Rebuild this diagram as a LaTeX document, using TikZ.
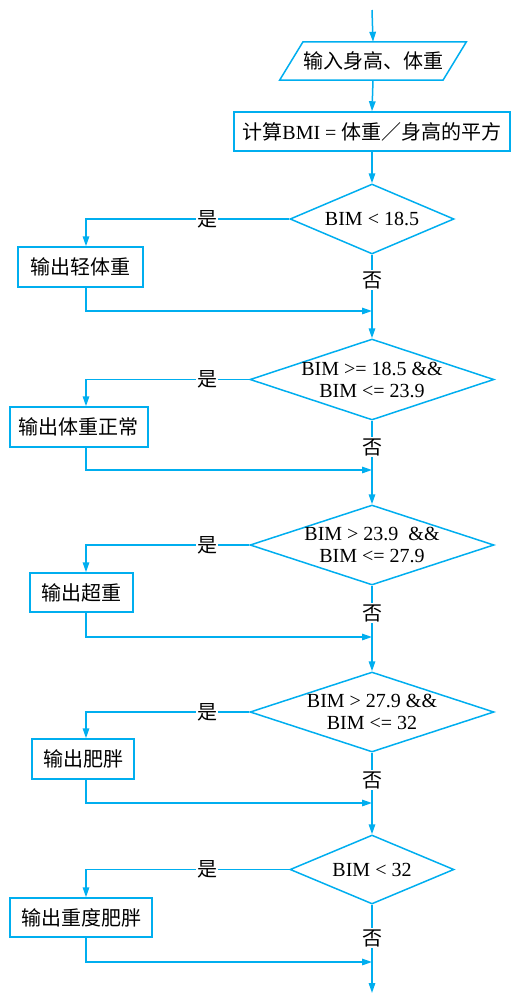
\documentclass[tikz,border=0pt]{standalone}
\usepackage{fontspec}
\setmainfont{Liberation Serif}
\newfontfamily\cjk{Noto Sans CJK SC}
\usetikzlibrary{shapes.geometric,arrows.meta,calc}
\definecolor{flow}{RGB}{0,174,239}
\begin{document}
\begin{tikzpicture}[x=1pt,y=-1pt,
  line/.style={draw=flow,line width=1.5pt},
  arr/.style={line,-{Triangle[length=10pt,width=6.5pt]}},
  procbox/.style={draw=flow,line width=1.5pt,rectangle,inner sep=0pt,font=\fontsize{20}{22}\selectfont\cjk},
  decide/.style={draw=flow,line width=1.5pt,diamond,inner sep=0pt},
  cond/.style={align=center,inner sep=0pt,font=\fontsize{20}{22}\selectfont},
  lab/.style={fill=white,inner sep=1pt,font=\fontsize{20}{22}\selectfont\cjk}]
\useasboundingbox (0,0) rectangle (511,994);

% coordinates
\coordinate (top) at (372,10);
\coordinate (bx) at (86,0);
\coordinate (m1) at (372,311);
\coordinate (m2) at (372,470);
\coordinate (m3) at (372,637);
\coordinate (m4) at (372,803);
\coordinate (m5) at (372,962);
\coordinate (bottom) at (372,993);

% input parallelogram
\node[inner sep=0pt,minimum width=163pt,minimum height=38pt,font=\fontsize{20}{22}\selectfont\cjk] (in) at (373,61) {输入身高、体重};
\draw[line] ($(in.north west)+(11.7,0)$) -- ($(in.north east)+(11.7,0)$) -- ($(in.south east)+(-11.7,0)$) -- ($(in.south west)+(-11.7,0)$) -- cycle;

% calculation
\node[procbox,minimum width=276pt,minimum height=39pt] (calc) at (372,131.5) {计算{\rmfamily BMI = }体重／身高的平方};

% decisions
\node[decide,minimum width=164pt,minimum height=70pt,label={[cond]center:{BIM < 18.5}}] (d1) at (372,219) {};
\node[decide,minimum width=244pt,minimum height=81pt,label={[cond]center:{BIM >= 18.5 \&\&\\BIM <= 23.9}}] (d2) at (372,379.5) {};
\node[decide,minimum width=244pt,minimum height=80pt,label={[cond]center:{BIM > 23.9\ \ \&\&\\BIM <= 27.9}}] (d3) at (372,545) {};
\node[decide,minimum width=244pt,minimum height=80pt,label={[cond]center:{BIM > 27.9 \&\&\\BIM <= 32}}] (d4) at (372,712) {};
\node[decide,minimum width=164pt,minimum height=69pt,label={[cond]center:{BIM < 32}}] (d5) at (372,869.5) {};

% output boxes
\node[procbox,minimum width=125pt,minimum height=40pt] (b1) at (80.5,267) {输出轻体重};
\node[procbox,minimum width=138pt,minimum height=40pt] (b2) at (79,427) {输出体重正常};
\node[procbox,minimum width=103pt,minimum height=39pt] (b3) at (81.5,592.5) {输出超重};
\node[procbox,minimum width=102pt,minimum height=40pt] (b4) at (83,759) {输出肥胖};
\node[procbox,minimum width=142pt,minimum height=39pt] (b5) at (81,917.5) {输出重度肥胖};

% main flow
\draw[arr] (top) -- (in.north);
\draw[arr] (in.south) -- (calc.north);
\draw[arr] (calc.south) -- (d1.north);
\draw[arr] (d1.south) -- (d2.north);
\draw[arr] (d2.south) -- (d3.north);
\draw[arr] (d3.south) -- (d4.north);
\draw[arr] (d4.south) -- (d5.north);
\draw[arr] (d5.south) -- (bottom);

% yes branches
\draw[arr] (d1.west) -| (b1.north -| bx);
\draw[arr] (d2.west) -| (b2.north -| bx);
\draw[arr] (d3.west) -| (b3.north -| bx);
\draw[arr] (d4.west) -| (b4.north -| bx);
\draw[arr] (d5.west) -| (b5.north -| bx);

% merges
\draw[arr] (b1.south -| bx) |- (m1);
\draw[arr] (b2.south -| bx) |- (m2);
\draw[arr] (b3.south -| bx) |- (m3);
\draw[arr] (b4.south -| bx) |- (m4);
\draw[arr] (b5.south -| bx) |- (m5);

% labels
\node[lab] (y1) at (207,219) {是};
\node[lab] (y2) at (207,379.5) {是};
\node[lab] (y3) at (207,545) {是};
\node[lab] (y4) at (207,712) {是};
\node[lab] (y5) at (207,869.5) {是};
\node[lab] (n1) at (372,280) {否};
\node[lab] (n2) at (372,447) {否};
\node[lab] (n3) at (372,613) {否};
\node[lab] (n4) at (372,780) {否};
\node[lab] (n5) at (372,938) {否};
\end{tikzpicture}
\end{document}
